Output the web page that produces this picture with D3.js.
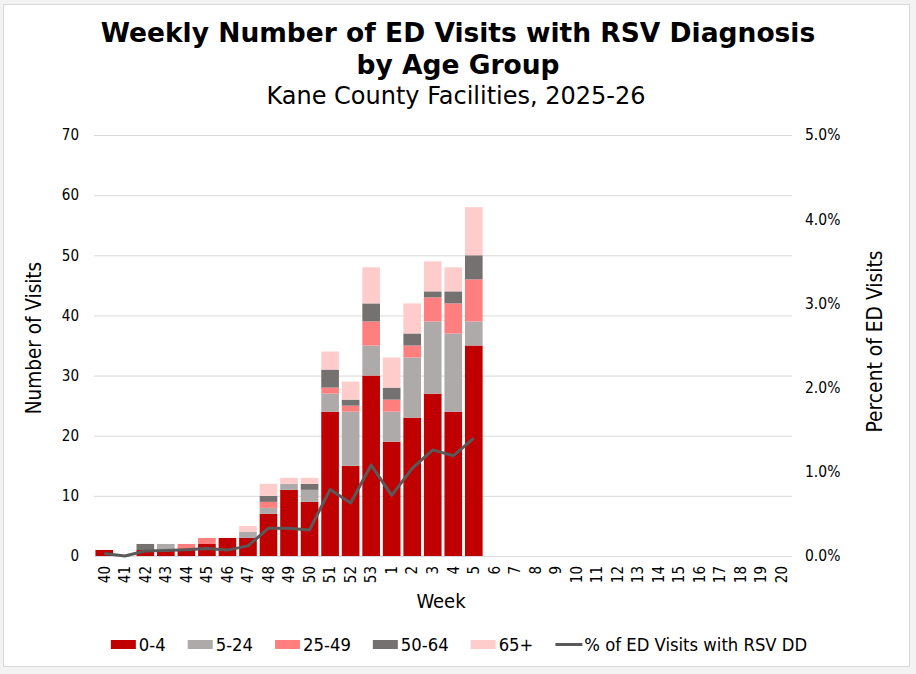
<!DOCTYPE html>
<html>
<head>
<meta charset="utf-8">
<script src="https://cdn.jsdelivr.net/npm/d3@7"></script>
<style>
html,body{margin:0;padding:0;background:#f3f3f3;}
svg{display:block;}
text{font-family:"DejaVu Sans Condensed","DejaVu Sans",sans-serif;font-stretch:condensed;fill:#000;}
text.wide{font-family:"DejaVu Sans",sans-serif;font-stretch:normal;}
</style>
</head>
<body>
<svg id="chart" width="916" height="674"></svg>
<script>
// ---- data ----
const weeks = ["40","41","42","43","44","45","46","47","48","49","50","51","52","53","1","2","3","4","5","6","7","8","9","10","11","12","13","14","15","16","17","18","19","20"];
const age0_4   = [1,0,1,1,1,2,3,3,7,11,9,24,15,30,19,23,27,24,35];
const age5_24  = [0,0,0,1,0,0,0,1,1,1,2,3,9,5,5,10,12,13,4];
const age25_49 = [0,0,0,0,1,1,0,0,1,0,0,1,1,4,2,2,4,5,7];
const age50_64 = [0,0,1,0,0,0,0,0,1,0,1,3,1,3,2,2,1,2,4];
const age65    = [0,0,0,0,0,0,0,1,2,1,1,3,3,6,5,5,5,4,8];
const pctRSV   = [0.0003,0.0000,0.0006,0.00065,0.00075,0.0009,0.0007,0.0012,0.0033,0.0033,0.0031,0.0079,0.0063,0.0108,0.0072,0.0104,0.0126,0.0119,0.0140];
const seriesNames = ["0-4","5-24","25-49","50-64","65+"];
const seriesColors = ["#C00000","#AEAAAA","#FF7F7F","#767171","#FFCCCC"];
const leftTicks = [0,10,20,30,40,50,60,70];
const rightTicks = [0,0.01,0.02,0.03,0.04,0.05];
const lineName = "% of ED Visits with RSV DD";

const svg = d3.select("#chart");
// chart background + border
svg.append("rect").attr("x",3.5).attr("y",4.5).attr("width",906).attr("height",662)
  .attr("fill","#fff").attr("stroke","#d9d9d9").attr("stroke-width",1);

const x = d3.scaleBand().domain(weeks).range([94,792]).paddingInner(0.14).paddingOuter(0.07);
const y = d3.scaleLinear().domain([0,70]).range([556,135]);
const y2 = d3.scaleLinear().domain([0,0.05]).range([556,135]);

// gridlines
svg.append("g").selectAll("line").data(leftTicks).join("line")
  .attr("x1",94).attr("x2",792).attr("y1",d=>y(d)+0.5).attr("y2",d=>y(d)+0.5)
  .attr("stroke","#d9d9d9").attr("stroke-width",1);

// stacked bars
const rows = weeks.map((w,i)=>({week:w,"0-4":age0_4[i]||0,"5-24":age5_24[i]||0,"25-49":age25_49[i]||0,"50-64":age50_64[i]||0,"65+":age65[i]||0}));
const stack = d3.stack().keys(seriesNames)(rows);
svg.append("g").selectAll("g").data(stack).join("g")
  .attr("fill",(d,i)=>seriesColors[i])
  .selectAll("rect").data(d=>d).join("rect")
  .attr("x",d=>x(d.data.week)).attr("width",x.bandwidth())
  .attr("y",d=>y(d[1])).attr("height",d=>y(d[0])-y(d[1]));

// line
const lineData = pctRSV.map((v,i)=>({week:weeks[i],v}));
svg.append("path").datum(lineData)
  .attr("fill","none").attr("stroke","#595959").attr("stroke-width",3).attr("stroke-linejoin","round")
  .attr("d",d3.line().x(d=>x(d.week)+x.bandwidth()/2).y(d=>y2(d.v)));

// left axis
const gl = svg.append("g").attr("transform","translate(94,0)")
  .call(d3.axisLeft(y).tickValues(leftTicks).tickSize(0).tickPadding(15));
gl.select(".domain").remove();
gl.selectAll("text").style("font-size","15px").style("font-family",null);

// right axis
const gr = svg.append("g").attr("transform","translate(792,0)")
  .call(d3.axisRight(y2).tickValues(rightTicks).tickFormat(d3.format(".1%")).tickSize(0).tickPadding(13));
gr.select(".domain").remove();
gr.selectAll("text").style("font-size","15.5px").style("font-family",null);

// x axis
const gx = svg.append("g").attr("transform","translate(0,556)")
  .call(d3.axisBottom(x).tickSize(0).tickPadding(0));
gx.select(".domain").remove();
gx.selectAll("text").style("font-size","15px").style("font-family",null)
  .attr("text-anchor","end").attr("transform","rotate(-90)")
  .attr("x",-10).attr("y",0).attr("dy","0.35em");

// axis titles
svg.append("text").attr("x",441).attr("y",608).attr("text-anchor","middle").style("font-size","20px").text("Week");
svg.append("text").attr("transform","translate(41,338) rotate(-90)").attr("text-anchor","middle").style("font-size","20.5px").text("Number of Visits");
svg.append("text").attr("transform","translate(882,341.5) rotate(-90)").attr("text-anchor","middle").style("font-size","20.8px").text("Percent of ED Visits");

// titles
svg.append("text").attr("class","wide").attr("x",458).attr("y",42).attr("text-anchor","middle").style("font-size","26.5px").style("font-weight","bold").text("Weekly Number of ED Visits with RSV Diagnosis");
svg.append("text").attr("class","wide").attr("x",458).attr("y",74).attr("text-anchor","middle").style("font-size","26.5px").style("font-weight","bold").text("by Age Group");
svg.append("text").attr("class","wide").attr("x",456).attr("y",104).attr("text-anchor","middle").style("font-size","24px").text("Kane County Facilities, 2025-26");

// legend
const leg = svg.append("g");
let cx = 0;
const gap = 22;
const items = seriesNames.map((n,i)=>({name:n,color:seriesColors[i],type:"rect"})).concat([{name:lineName,color:"#595959",type:"line"}]);
items.forEach(it=>{
  const g = leg.append("g").attr("transform",`translate(${cx},0)`);
  if(it.type==="rect") g.append("rect").attr("x",0).attr("y",-4.5).attr("width",25).attr("height",9).attr("fill",it.color);
  else g.append("line").attr("x1",0).attr("x2",27).attr("y1",0).attr("y2",0).attr("stroke",it.color).attr("stroke-width",3);
  const t = g.append("text").attr("x",it.type==="rect"?28:29).attr("y",0).attr("dy","0.35em").style("font-size","18.3px").text(it.name);
  cx += (it.type==="rect"?28:29) + t.node().getComputedTextLength() + gap;
});
const legW = cx - gap;
leg.attr("transform",`translate(${459 - legW/2},644.5)`);
</script>
</body>
</html>
